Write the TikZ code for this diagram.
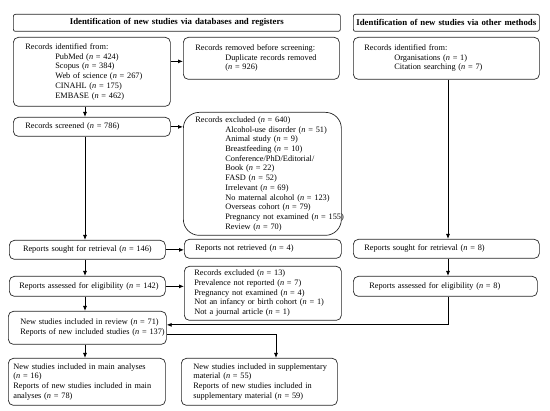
\documentclass[tikz,border=0pt]{standalone}
\usepackage{fontspec}
\setmainfont{Liberation Serif}
\usetikzlibrary{arrows.meta}

\newcommand{\ind}{\hspace*{30pt}}
\newcommand{\nn}{\textit{n}}
\newcommand{\lines}[1]{\begin{tabular}{@{}l@{}}#1\end{tabular}}

\begin{document}
\begin{tikzpicture}[x=1pt, y=-1pt,
  every node/.style={font=\fontsize{8.3}{9.7}\selectfont},
  box/.style={draw=black!85, line width=0.7pt, rounded corners=5pt, anchor=north west, inner ysep=0pt, align=left},
  head/.style={box, rounded corners=2pt, align=center, inner xsep=0pt, font=\fontsize{8.8}{10}\selectfont\bfseries},
  link/.style={line width=0.8pt, -{Latex[length=5pt,width=4pt]}}
]
\useasboundingbox (0,0) rectangle (550,411);

\node[head, text width=327pt, minimum height=17pt] (hdrdb) at (13,14) {Identification of new studies via databases and registers};
\node[head, text width=186pt, minimum height=17pt] (hdroth) at (353,14) {Identification of new studies via other methods};

\node[box, text width=133pt, inner xsep=12pt, minimum height=69pt] (ident) at (13,37) {\lines{Records identified from:\\
  \ind PubMed (\nn{} = 424)\\
  \ind Scopus (\nn{} = 384)\\
  \ind Web of science (\nn{} = 267)\\
  \ind CINAHL (\nn{} = 175)\\
  \ind EMBASE (\nn{} = 462)}};
\node[box, text width=132pt, inner xsep=12pt, minimum height=42pt] (removed) at (183,37) {\lines{Records removed before screening:\\
  \ind Duplicate records removed\\
  \ind (\nn{} = 926)}};
\node[box, text width=164pt, inner xsep=11pt, minimum height=42pt] (other) at (353,37) {\lines{Records identified from:\\
  \ind Organisations (\nn{} = 1)\\
  \ind Citation searching (\nn{} = 7)}};

\node[box, text width=133pt, inner xsep=12pt, minimum height=19pt] (screened) at (13,117) {\lines{Records screened (\nn{} = 786)}};
\node[box, rounded corners=16pt, text width=134pt, inner xsep=12pt, minimum height=123pt] (excl) at (183,112) {\lines{Records excluded (\nn{} = 640)\\
  \ind Alcohol-use disorder (\nn{} = 51)\\
  \ind Animal study (\nn{} = 9)\\
  \ind Breastfeeding (\nn{} = 10)\\
  \ind Conference/PhD/Editorial/\\
  \ind Book (\nn{} = 22)\\
  \ind FASD (\nn{} = 52)\\
  \ind Irrelevant (\nn{} = 69)\\
  \ind No maternal alcohol (\nn{} = 123)\\
  \ind Overseas cohort (\nn{} = 79)\\
  \ind Pregnancy not examined (\nn{} = 155)\\
  \ind Review (\nn{} = 70)}};

\node[box, align=center, text width=136pt, inner xsep=10pt, minimum height=19pt] (sought) at (9,240) {\lines{Reports sought for retrieval (\nn{} = 146)}};
\node[box, text width=135pt, inner xsep=11pt, minimum height=19pt] (notret) at (184,239) {\lines{Reports not retrieved (\nn{} = 4)}};
\node[box, text width=164pt, inner xsep=11pt, minimum height=19pt] (othsought) at (353,239) {\lines{Reports sought for retrieval (\nn{} = 8)}};

\node[box, align=center, text width=136pt, inner xsep=10pt, minimum height=20pt] (assessed) at (9,276) {\lines{Reports assessed for eligibility (\nn{} = 142)}};
\node[box, text width=137pt, inner xsep=10pt, minimum height=54pt] (excl2) at (184,266) {\lines{Records excluded (\nn{} = 13)\\
  Prevalence not reported (\nn{} = 7)\\
  Pregnancy not examined (\nn{} = 4)\\
  Not an infancy or birth cohort (\nn{} = 1)\\
  Not a journal article (\nn{} = 1)}};
\node[box, text width=152pt, inner xsep=16pt, minimum height=20pt] (othassessed) at (353,276) {\lines{Reports assessed for eligibility (\nn{} = 8)}};

\node[box, text width=134pt, inner xsep=12pt, minimum height=33pt] (included) at (8,311) {\lines{New studies included in review (\nn{} = 71)\\
  Reports of new included studies (\nn{} = 137)}};

\node[box, text width=147pt, inner xsep=5pt, minimum height=47pt] (main) at (8,358) {\lines{New studies included in main analyses\\
  (\nn{} = 16)\\
  Reports of new studies included in main\\
  analyses (\nn{} = 78)}};
\node[box, text width=132pt, inner xsep=12pt, minimum height=47pt] (supp) at (181,358) {\lines{New studies included in supplementary\\
  material (\nn{} = 55)\\
  Reports of new studies included in\\
  supplementary material (\nn{} = 59)}};

\coordinate (spine) at (85,0);
\coordinate (ospine) at (448,0);
\coordinate (sspine) at (276,0);
\coordinate (remin) at ([yshift=-3pt]removed.west);

\draw[link] (ident.south -| spine) -- (screened.north -| spine);
\draw[link] (screened.south -| spine) -- (sought.north -| spine);
\draw[link] (sought.south -| spine) -- (assessed.north -| spine);
\draw[link] (assessed.south -| spine) -- (included.north -| spine);
\draw[link] (included.south -| spine) -- (main.north -| spine);

\draw[link] (ident.east |- remin) -- (remin);
\draw[link] (screened.east) -- (screened.east -| excl.west);
\draw[link] (sought.east) -- (sought.east -| notret.west);
\draw[link] (assessed.east) -- (assessed.east -| excl2.west);

\draw[link] (other.south -| ospine) -- (othsought.north -| ospine);
\draw[link] (othsought.south -| ospine) -- (othassessed.north -| ospine);
\draw[link] (othassessed.south -| ospine) |- ([yshift=3pt]included.east);
\draw[link] ([yshift=-6.5pt]included.east) -| (supp.north -| sspine);
\end{tikzpicture}
\end{document}
